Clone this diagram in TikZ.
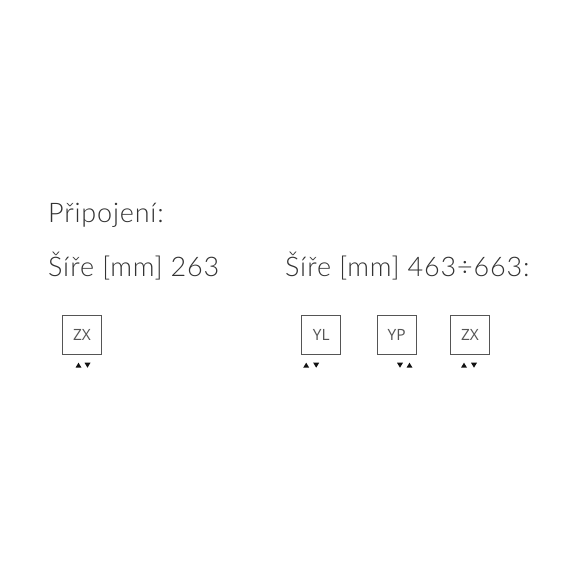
\documentclass[tikz,border=0pt]{standalone}
\usepackage{fontspec}
\setmainfont{Lato}[UprightFont={* Light},LetterSpace=3]
\newfontfamily\boxfont{Open Sans}
\definecolor{txtgray}{HTML}{333333}
\definecolor{boxgray}{HTML}{555555}
\definecolor{tri}{HTML}{111111}
\begin{document}
\begin{tikzpicture}[x=1pt,y=-1pt,
  lbl/.style={anchor=base west,inner sep=0pt,text=txtgray,font=\fontsize{27}{32}\selectfont},
  conn/.style={draw=boxgray,line width=1pt,minimum width=39pt,minimum height=39pt,inner sep=0pt,text=boxgray,font=\boxfont\fontsize{15.5}{18}\selectfont},
]
\useasboundingbox (0,0) rectangle (576,576);
\fill[white] (0,0) rectangle (576,576);
\node[lbl] (t1) at (48,222.5) {Připojení:};
\node[lbl] (t2) at (48,276) {Šíře [mm] 263};
\node[lbl] (t3) at (285,276) {Šíře [mm] 463÷663:};
\node[conn] (b1) at (82,334.5) {ZX};
\node[conn] (b2) at (321.2,334.5) {YL};
\node[conn] (b3) at (396.7,334.5) {YP};
\node[conn] (b4) at (470,334.5) {ZX};
\newcommand{\tup}[2]{\fill[tri] ([xshift=#2pt,yshift=-4.2pt]#1.south) ++(-3,9) -- ++(6,0) -- ++(-3,-5) -- cycle;}
\newcommand{\tdn}[2]{\fill[tri] ([xshift=#2pt,yshift=-4.2pt]#1.south) ++(-3,4) -- ++(6,0) -- ++(-3,5) -- cycle;}
\tup{b1}{-3.5}\tdn{b1}{5.5}
\tup{b2}{-15}\tdn{b2}{-5}
\tdn{b3}{3.3}\tup{b3}{12.8}
\tup{b4}{-6}\tdn{b4}{4}
\end{tikzpicture}
\end{document}
